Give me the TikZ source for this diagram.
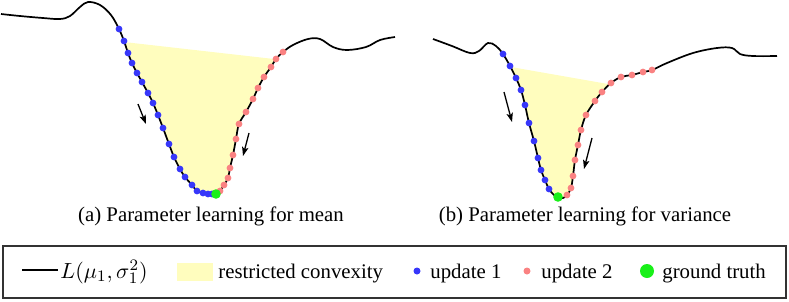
\documentclass[tikz,border=0pt]{standalone}
\usepackage{amsmath}
\usepackage{fontspec}
\setmainfont{Liberation Serif}
\usepackage{tikz}
\usetikzlibrary{arrows.meta, positioning}

\definecolor{convex}{RGB}{255,253,190}
\definecolor{upblue}{RGB}{55,55,250}
\definecolor{upred}{RGB}{250,130,130}
\definecolor{truth}{RGB}{25,240,25}

\begin{document}
\begin{tikzpicture}[
        x=0.5pt, y=-0.5pt,
        loss/.style={line width=0.85pt, black},
        region/.style={fill=convex},
        upd1/.style={fill=upblue},
        upd2/.style={fill=upred},
        gt/.style={fill=truth},
        descent/.style={-{Stealth[length=4.5pt, width=3.2pt, inset=1pt]}, line width=0.65pt},
        caption/.style={font=\fontsize{10.4}{12}\selectfont, anchor=base},
        legtext/.style={font=\fontsize{10.4}{12}\selectfont, anchor=base west, inner sep=0pt}
    ]
    \useasboundingbox (0,0) rectangle (789,301);

    % (a) mean: restricted convexity region
    \fill[region] plot[smooth, tension=0.6] coordinates {(124,42) (128,53) (132,63) (137,73) (142,82) (148,93) (153,103) (158,115) (163,128) (169,144) (174,157) (180,169) (185,177) (192,185) (197,191) (203,193) (208,194) (212,194) (216,194) (220,191) (224,185) (228,178) (230,168) (233,155) (236,139) (239,124) (246,112) (253,99) (258,88) (264,77) (271,67) (274,59)} -- cycle;

    % (a) mean: loss curve
    \draw[loss] plot[smooth, tension=0.6] coordinates {(1,14) (20,16) (43,18) (60,19) (70,16) (80,7) (88,2) (100,5) (111,15) (119,29) (124,41) (128,53) (132,63) (137,73) (142,82) (148,93) (153,103) (158,115) (163,128) (169,144) (174,157) (180,169) (185,177) (192,185) (197,191) (203,193) (208,194) (212,194) (216,194) (220,191) (224,185) (228,178) (230,168) (233,155) (236,139) (239,124) (246,112) (253,99) (258,88) (264,77) (271,67) (276,59) (283,52) (293,45) (308,39) (320,39) (333,47) (347,50) (366,47) (380,40) (395,37)};

    % (a) mean: updates
    \foreach \p in {(119,29),(124,41),(128,53),(132,63),(137,73),(142,82),(148,93),(153,103),(158,115),(163,128),(169,144),(174,157),(180,169),(185,177),(192,185),(197,191),(203,193),(208,194),(212,194)}
        \fill[upd1] \p circle (1.7pt);
    \foreach \p in {(220,191),(224,185),(228,178),(230,168),(233,155),(236,139),(239,124),(246,112),(253,99),(258,88),(264,77),(271,67),(276,59),(283,52)}
        \fill[upd2] \p circle (1.7pt);
    \fill[gt] (216,194) circle (2.4pt);

    \coordinate (a1s) at (138,104);
    \coordinate (a1e) at (146,124);
    \coordinate (a2s) at (249,133);
    \coordinate (a2e) at (243,156);
    \draw[descent] (a1s) -- (a1e);
    \draw[descent] (a2s) -- (a2e);

    % (b) variance: restricted convexity region
    \fill[region] plot[smooth, tension=0.6] coordinates {(511,67) (516,78) (521,90) (525,105) (529,123) (534,141) (538,158) (541,170) (545,180) (549,189) (554,195) (558,197) (563,198) (567,195) (571,188) (573,176) (575,160) (578,145) (581,130) (586,115) (595,101) (602,92) (608,84)} -- cycle;

    % (b) variance: loss curve
    \draw[loss] plot[smooth, tension=0.6] coordinates {(433,39) (452,46) (470,53) (479,51) (488,43) (496,46) (503,54) (510,66) (516,78) (521,90) (525,105) (529,123) (534,141) (538,158) (541,170) (545,180) (549,189) (554,195) (558,197) (563,198) (567,195) (571,188) (573,176) (575,160) (578,145) (581,130) (586,115) (595,101) (602,92) (611,83) (621,77) (632,75) (643,72) (652,70) (667,63) (693,53) (717,48) (732,48) (740,54) (753,56) (777,56)};

    % (b) variance: updates
    \foreach \p in {(503,54),(510,66),(516,78),(521,90),(525,105),(529,123),(534,141),(538,158),(541,170),(545,180),(549,189)}
        \fill[upd1] \p circle (1.7pt);
    \foreach \p in {(567,195),(571,188),(573,176),(575,160),(578,145),(581,130),(586,115),(595,101),(602,92),(611,83),(621,77),(632,75),(643,72),(652,70)}
        \fill[upd2] \p circle (1.7pt);
    \fill[gt] (558,197) circle (2.4pt);

    \coordinate (b1s) at (504,92);
    \coordinate (b1e) at (512,122);
    \coordinate (b2s) at (592,138);
    \coordinate (b2e) at (584,169);
    \draw[descent] (b1s) -- (b1e);
    \draw[descent] (b2s) -- (b2e);

    % Captions
    \node[caption] (capa) at (211,221) {(a) Parameter learning for mean};
    \node[caption] (capb) at (585,221) {(b) Parameter learning for variance};

    % Legend
    \draw[line width=0.65pt, black!80] (3,246) rectangle (786,298);
    \draw[line width=1.4pt] (22,270) -- (58,270);
    \node[legtext, font=\fontsize{11.4}{13}\selectfont] (lloss) at (60,278) {$L(\mu_1,\sigma_1^2)$};
    \fill[region] (177,263) rectangle (213,281);
    \node[legtext] (lconv) at (218,278) {restricted convexity};
    \fill[upd1] (417,271) circle (1.75pt);
    \node[legtext] (lup1) at (430,278) {update 1};
    \fill[upd2] (527,271) circle (1.75pt);
    \node[legtext] (lup2) at (541,278) {update 2};
    \fill[gt] (647,271) circle (3.5pt);
    \node[legtext] (lgt) at (662,278) {ground truth};

    \end{tikzpicture}
\end{document}
